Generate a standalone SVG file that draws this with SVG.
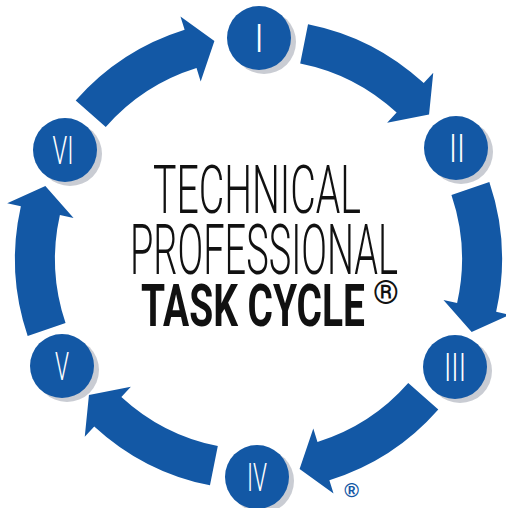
<svg xmlns="http://www.w3.org/2000/svg" xmlns:xlink="http://www.w3.org/1999/xlink" width="506" height="508" viewBox="0 0 506 508">
  <style>
    .arrow { fill: #1358a5; }
    .node { fill: #1358a5; }
    .shadow { fill: #c9ccd3; }
    .num { fill: #ffffff; font-family: "Roboto", "Liberation Sans", Arial, sans-serif; font-weight: 300; font-size: 38px; text-anchor: middle; }
    .title { fill: #111111; font-family: "Roboto", "Liberation Sans", Arial, sans-serif; }
  </style>
  <defs>
    <path id="arr" class="arrow" d="M 47.03,-235.35 A 240 240 0 0 1 162.76,-176.38 L 172.25,-186.67 L 168.05,-145.06 L 126.14,-136.69 L 135.63,-146.98 A 200 200 0 0 0 39.19,-196.12 Z"/>
  </defs>
  <rect width="506" height="508" fill="#ffffff"/>

  <g id="connectors">
    <use xlink:href="#arr" href="#arr" transform="translate(256,259) rotate(-60)"/>
    <use xlink:href="#arr" href="#arr" transform="translate(261,259.5)"/>
    <use xlink:href="#arr" href="#arr" transform="translate(262,259) rotate(60)"/>
    <use xlink:href="#arr" href="#arr" transform="translate(258,251) rotate(120)"/>
    <use xlink:href="#arr" href="#arr" transform="translate(257,250) rotate(180)"/>
    <use xlink:href="#arr" href="#arr" transform="translate(255,259) rotate(240)"/>
  </g>

  <g id="node-I">
    <circle class="shadow" cx="264" cy="42" r="32"/>
    <circle class="node" cx="259" cy="38" r="32"/>
    <text class="num" x="259" y="51.5">I</text>
  </g>
  <g id="node-II">
    <circle class="shadow" cx="461" cy="152" r="32"/>
    <circle class="node" cx="456" cy="148" r="32"/>
    <text class="num" x="457" y="161.5" textLength="16" lengthAdjust="spacingAndGlyphs">II</text>
  </g>
  <g id="node-III">
    <circle class="shadow" cx="460" cy="371" r="32"/>
    <circle class="node" cx="455" cy="367" r="32"/>
    <text class="num" x="455" y="380.5" textLength="22" lengthAdjust="spacingAndGlyphs">III</text>
  </g>
  <g id="node-IV">
    <circle class="shadow" cx="262" cy="481" r="32"/>
    <circle class="node" cx="257" cy="477" r="32"/>
    <text class="num" x="257" y="490.5" textLength="20" lengthAdjust="spacingAndGlyphs">IV</text>
  </g>
  <g id="node-V">
    <circle class="shadow" cx="67" cy="370" r="32"/>
    <circle class="node" cx="62" cy="366" r="32"/>
    <text class="num" x="62" y="379.5" textLength="14" lengthAdjust="spacingAndGlyphs">V</text>
  </g>
  <g id="node-VI">
    <circle class="shadow" cx="70" cy="154" r="32"/>
    <circle class="node" cx="65" cy="150" r="32"/>
    <text class="num" x="63" y="163.5" textLength="21" lengthAdjust="spacingAndGlyphs">VI</text>
  </g>

  <g id="title">
    <text class="title" x="153" y="213" font-size="67" font-weight="300" textLength="208" lengthAdjust="spacingAndGlyphs">TECHNICAL</text>
    <text class="title" x="130" y="274" font-size="70" font-weight="300" textLength="268" lengthAdjust="spacingAndGlyphs">PROFESSIONAL</text>
    <text class="title" x="141" y="326" font-size="60" font-weight="bold" textLength="224" lengthAdjust="spacingAndGlyphs">TASK CYCLE</text>
    <text class="title" x="386" y="304" font-size="33" font-weight="bold" text-anchor="middle">®</text>
  </g>
  <text x="351.5" y="497" font-family="Liberation Sans, Arial, sans-serif" font-size="20" font-weight="bold" fill="#1358a5" text-anchor="middle">®</text>
</svg>
